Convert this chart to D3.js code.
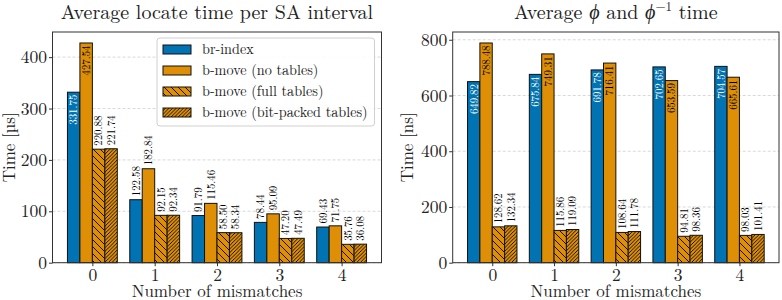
<!DOCTYPE html>
<html><head><meta charset="utf-8">
<script src="https://cdn.jsdelivr.net/npm/d3@7"></script>
<style>body{margin:0;background:#fff;}</style></head>
<body><svg id="c" width="782" height="300"></svg>
<script>
const categories = [0, 1, 2, 3, 4];
const seriesNames = ["br-index", "b-move (no tables)", "b-move (full tables)", "b-move (bit-packed tables)"];
const locateBr = [331.75, 122.58, 91.79, 78.44, 69.43];
const locateNoTables = [427.54, 182.84, 115.46, 95.09, 71.75];
const locateFull = [220.88, 92.15, 58.50, 47.20, 35.76];
const locateBitPacked = [221.74, 92.34, 58.34, 47.49, 36.08];
const phiBr = [649.82, 675.84, 691.78, 702.65, 704.57];
const phiNoTables = [788.48, 749.31, 716.41, 653.59, 665.61];
const phiFull = [128.62, 115.86, 108.64, 94.81, 98.03];
const phiBitPacked = [132.34, 119.09, 111.78, 98.36, 101.41];
const locateTicks = [0, 100, 200, 300, 400];
const phiTicks = [0, 200, 400, 600, 800];

const FONT = '"Latin Modern Roman"';
const BLUE = "#0173b2", ORANGE = "#de8f05";
const svg = d3.select("#c");
const defs = svg.append("defs");

function makePattern(id, w, dir) {
  const p = defs.append("pattern").attr("id", id).attr("patternUnits", "userSpaceOnUse")
    .attr("width", w).attr("height", w);
  p.append("rect").attr("width", w).attr("height", w).attr("fill", ORANGE);
  let d;
  if (dir === "back") d = `M-1,-1L${w+1},${w+1}M-1,${w-1}L1,${w+1}M${w-1},-1L${w+1},1`;
  else d = `M-1,${w+1}L${w+1},-1M-1,1L1,-1M${w-1},${w+1}L${w+1},${w-1}`;
  p.append("path").attr("d", d).attr("stroke", "#000").attr("stroke-width", 0.9);
}
makePattern("hatchFull", 7, "back");
makePattern("hatchBit", 3.6, "fwd");
const fills = [BLUE, ORANGE, "url(#hatchFull)", "url(#hatchBit)"];
const labelInsideColors = ["#fff", "#000", "#000", "#000"];

function panel(opts) {
  const {x0, x1, y0, y1, series, ticks, ylabel, titleFn} = opts;
  const g = svg.append("g");
  const allMax = d3.max(series.flat());
  const x = d3.scaleLinear().domain([-0.64, 4.64]).range([x0, x1]);
  const y = d3.scaleLinear().domain([0, allMax * 1.05]).range([y1, y0]);
  g.append("g").selectAll("line").data(ticks).join("line")
    .attr("x1", x0).attr("x2", x1).attr("y1", d => y(d)).attr("y2", d => y(d))
    .attr("stroke", "#cfcfcf").attr("stroke-width", 0.8).attr("stroke-dasharray", "3,2");
  const bw = 0.2;
  const offs = [-0.3, -0.1, 0.1, 0.3];
  series.forEach((vals, si) => {
    const sg = g.append("g");
    sg.selectAll("rect").data(vals).join("rect")
      .attr("x", (d, i) => x(categories[i] + offs[si] - bw / 2))
      .attr("width", x(bw) - x(0))
      .attr("y", d => y(d))
      .attr("height", d => y(0) - y(d))
      .attr("fill", fills[si]).attr("stroke", "#111").attr("stroke-width", 1);
    sg.selectAll("text").data(vals).join("text")
      .each(function (d, i) {
        const cx = x(categories[i] + offs[si]);
        const inside = d > 0.6 * allMax;
        const t = d3.select(this);
        if (inside) {
          t.attr("transform", `translate(${cx + 3.8},${y(d) + 2.5}) rotate(-90)`)
            .attr("text-anchor", "end").attr("fill", labelInsideColors[si]);
        } else {
          t.attr("transform", `translate(${cx + 3.8},${y(d) - 3.5}) rotate(-90)`)
            .attr("text-anchor", "start").attr("fill", "#000");
        }
      })
      .style("font-family", FONT).attr("font-size", 10.8).text(d => d.toFixed(2));
  });
  g.append("rect").attr("x", x0).attr("y", y0).attr("width", x1 - x0).attr("height", y1 - y0)
    .attr("fill", "none").attr("stroke", "#333").attr("stroke-width", 1);
  const ya = g.append("g").attr("transform", `translate(${x0},0)`)
    .call(d3.axisLeft(y).tickValues(ticks).tickSize(3.5).tickPadding(2).tickFormat(d3.format("d")));
  const xa = g.append("g").attr("transform", `translate(0,${y1})`)
    .call(d3.axisBottom(x).tickValues(categories).tickSize(3.5).tickPadding(2.5).tickFormat(d3.format("d")));
  [ya, xa].forEach(a => {
    a.select(".domain").remove();
    a.selectAll("line").attr("stroke", "#333");
    a.selectAll("text").attr("font-size", 17.5).attr("fill", "#222").style("font-family", FONT);
  });
  g.append("text").attr("x", (x0 + x1) / 2).attr("y", 296.5).attr("text-anchor", "middle")
    .style("font-family", FONT).attr("font-size", 17).attr("fill", "#222").text("Number of mismatches");
  g.append("text").attr("transform", `translate(${opts.ylx},${(y0 + y1) / 2}) rotate(-90)`)
    .attr("text-anchor", "middle").style("font-family", FONT).attr("font-size", 17).attr("fill", "#222").text(ylabel);
  const tt = g.append("text").attr("x", (x0 + x1) / 2).attr("y", 18.5).attr("text-anchor", "middle")
    .style("font-family", FONT).attr("font-size", 20).attr("fill", "#222");
  titleFn(tt);
}

panel({
  x0: 52.5, x1: 381.5, y0: 32, y1: 262.7,
  series: [locateBr, locateNoTables, locateFull, locateBitPacked],
  ticks: locateTicks, ylabel: "Time [µs]", ylx: 15,
  titleFn: t => t.text("Average locate time per SA interval")
});
panel({
  x0: 452.7, x1: 779, y0: 32, y1: 262.7,
  series: [phiBr, phiNoTables, phiFull, phiBitPacked],
  ticks: phiTicks, ylabel: "Time [ns]", ylx: 413,
  titleFn: t => {
    t.append("tspan").text("Average ");
    t.append("tspan").attr("font-style", "italic").text("ϕ");
    t.append("tspan").text(" and ");
    t.append("tspan").attr("font-style", "italic").text("ϕ");
    t.append("tspan").attr("font-size", 13).attr("dy", -8).text("−1");
    t.append("tspan").attr("dy", 8).text(" time");
  }
});

const lg = svg.append("g");
lg.append("rect").attr("x", 157).attr("y", 38).attr("width", 217.5).attr("height", 88).attr("rx", 3)
  .attr("fill", "rgba(255,255,255,0.85)").attr("stroke", "#d0d0d0").attr("stroke-width", 1);
seriesNames.forEach((n, i) => {
  const cy = 49.5 + i * 21;
  lg.append("rect").attr("x", 163).attr("y", cy - 4.5).attr("width", 28).attr("height", 9)
    .attr("fill", fills[i]).attr("stroke", "#111").attr("stroke-width", 1);
  lg.append("text").attr("x", 202).attr("y", cy + 4.5).style("font-family", FONT)
    .attr("font-size", 14.2).attr("fill", "#222").text(n);
});
</script></body></html>
